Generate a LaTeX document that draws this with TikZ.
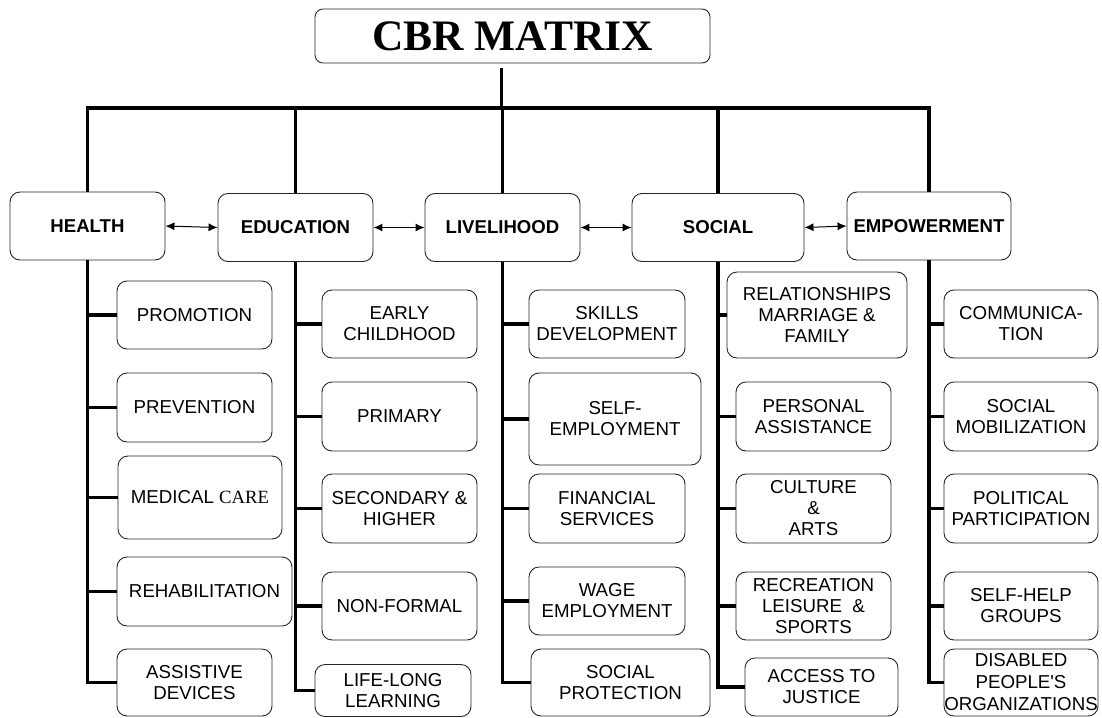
\documentclass[tikz,border=0pt]{standalone}
\usepackage{fontspec}
\setmainfont{Liberation Sans}
\newfontfamily\seriff{Liberation Serif}
\usetikzlibrary{arrows.meta}
\begin{document}
\begin{tikzpicture}[x=1pt,y=-1pt,
  box/.style={draw=black!85, line width=0.9pt, rounded corners=10pt, align=center, inner sep=0pt,
    font=\fontsize{18.7}{21}\selectfont},
  item/.style={box, minimum width=155pt, minimum height=68pt},
  cat/.style={box, font=\fontsize{18.6}{21}\selectfont\bfseries, minimum width=155pt, minimum height=68pt},
  tree/.style={line width=3.5pt, line join=miter},
  link/.style={line width=1pt, {Latex[length=9pt,width=8pt]}-{Latex[length=9pt,width=8pt]}}]
\useasboundingbox (0,0) rectangle (1102,717);

% title
\node[box, rounded corners=8pt, minimum width=395pt, minimum height=54pt,
  font=\seriff\fontsize{43.5}{46}\selectfont\bfseries] (title) at (512.5,36) {CBR MATRIX};
\coordinate (busy) at (0,108);

% categories
\node[cat] (health) at (87.5,226) {HEALTH};
\node[cat] (edu) at (295.5,227.5) {EDUCATION};
\node[cat] (liv) at (502.5,227.5) {LIVELIHOOD};
\node[cat, minimum width=172pt] (soc) at (718,227.5) {SOCIAL};
\node[cat, minimum width=164pt] (emp) at (929,226) {EMPOWERMENT};

% health items
\node[item] (prom) at (194.5,315) {PROMOTION};
\node[item, minimum height=69pt] (prev) at (194.5,407.5) {PREVENTION};
\node[item, minimum width=164pt, minimum height=83pt] (med) at (200,497.5) {MEDICAL {\seriff CARE}};
\node[item, minimum width=175pt, minimum height=69pt] (rehab) at (204.5,591.5) {REHABILITATION};
\node[item, minimum height=67pt] (assist) at (194.5,682.5) {ASSISTIVE\\DEVICES};

% education items
\node[item] (early) at (399.5,324) {EARLY\\CHILDHOOD};
\node[item, minimum height=69pt] (primary) at (399.5,416.5) {PRIMARY};
\node[item, minimum height=69pt] (second) at (399.5,508.5) {SECONDARY \&\\HIGHER};
\node[item] (nonformal) at (399.5,606) {NON-FORMAL};
\node[item, minimum width=156pt, minimum height=52pt] (lifelong) at (393,690.5) {LIFE-LONG\\LEARNING};

% livelihood items
\node[item, minimum width=156pt] (skills) at (607,324) {SKILLS\\DEVELOPMENT};
\node[item, minimum width=172pt, minimum height=92pt] (selfemp) at (615,419) {SELF-\\EMPLOYMENT};
\node[item, minimum width=156pt, minimum height=69pt] (financial) at (607,508.5) {FINANCIAL\\SERVICES};
\node[item, minimum width=156pt] (wage) at (607,601) {WAGE\\EMPLOYMENT};
\node[item, minimum width=179pt, minimum height=67pt] (socprot) at (620.5,682.5) {SOCIAL\\PROTECTION};

% social items
\node[item, minimum width=180pt, minimum height=86pt] (rel) at (817,315) {RELATIONSHIPS\\MARRIAGE \&\\FAMILY};
\node[item, minimum height=69pt] (personal) at (813.5,416.5) {PERSONAL\\ASSISTANCE};
\node[item, minimum height=69pt] (culture) at (813.5,508.5) {CULTURE\\\&\\ARTS};
\node[item] (recreation) at (813.5,606) {RECREATION\\LEISURE~~\&\\SPORTS};
\node[item, minimum width=153pt, minimum height=58pt] (access) at (821.5,687) {ACCESS TO\\JUSTICE};

% empowerment items
\node[item, minimum width=154pt] (comm) at (1021,324) {COMMUNICA-\\TION};
\node[item, minimum width=154pt, minimum height=69pt] (socmob) at (1021,416.5) {SOCIAL\\MOBILIZATION};
\node[item, minimum width=154pt, minimum height=69pt] (political) at (1021,508.5) {POLITICAL\\PARTICIPATION};
\node[item, minimum width=154pt] (selfhelp) at (1021,606) {SELF-HELP\\GROUPS};
\node[item, minimum width=154pt, minimum height=67pt, font=\fontsize{18.7}{22}\selectfont] (disabled) at (1021,682.5) {DISABLED\\PEOPLE\textquotesingle S\\ORGANIZATIONS};

% top tree
\draw[line width=3pt, shorten <=5pt] ([xshift=-11.5pt]title.south) -- ([xshift=-11.5pt]title.south |- busy);
\draw[tree] (health.north) -- (health.north |- busy) -- (emp.north |- busy) -- (emp.north);
\draw[tree] (edu.north) -- (edu.north |- busy);
\draw[tree] (liv.north) -- (liv.north |- busy);
\draw[tree] (soc.north) -- (soc.north |- busy);

% arrows
\draw[link] (health.east) -- (edu.west);
\draw[link] (edu.east) -- (liv.west);
\draw[link] (liv.east) -- (soc.west);
\draw[link] (soc.east) -- (emp.west);

% health column
\draw[tree] (health.south) -- (health.south |- assist.west) -- (assist.west);
\foreach \n in {prom,prev,med,rehab} \draw[tree] (health.south |- \n.west) -- (\n.west);
% education column
\draw[tree] (edu.south) -- (edu.south |- lifelong.west) -- (lifelong.west);
\foreach \n in {early,primary,second,nonformal} \draw[tree] (edu.south |- \n.west) -- (\n.west);
% livelihood column
\draw[tree] (liv.south) -- (liv.south |- socprot.west) -- (socprot.west);
\foreach \n in {skills,selfemp,financial,wage} \draw[tree] (liv.south |- \n.west) -- (\n.west);
% social column
\draw[tree] (soc.south) -- (soc.south |- access.west) -- (access.west);
\foreach \n in {rel,personal,culture,recreation} \draw[tree] (soc.south |- \n.west) -- (\n.west);
% empowerment column
\draw[tree] (emp.south) -- (emp.south |- disabled.west) -- (disabled.west);
\foreach \n in {comm,socmob,political,selfhelp} \draw[tree] (emp.south |- \n.west) -- (\n.west);
\end{tikzpicture}
\end{document}
